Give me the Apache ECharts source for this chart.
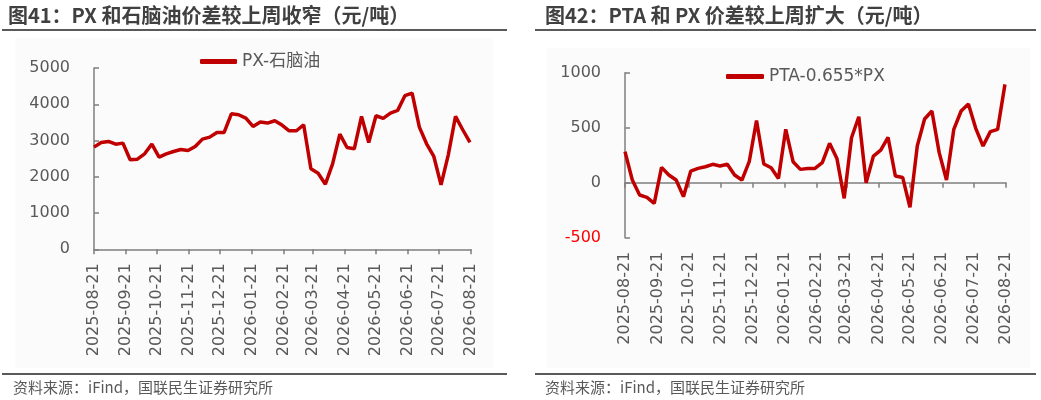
<!DOCTYPE html>
<html>
<head>
<meta charset="utf-8">
<script src="https://cdn.jsdelivr.net/npm/echarts@6/dist/echarts.min.js"></script>
<style>
html,body{margin:0;padding:0;background:#fff;}
#c{width:1041px;height:400px;}
</style>
</head>
<body>
<div id="c"></div>
<script>
// ---- data ----
const startDate = '2025-08-21';
const endDate = '2026-08-21';
const weeksCount = 53;
const pxNaphtha = [2818,2946,2974,2900,2928,2468,2486,2633,2900,2541,2633,2698,2753,2725,2836,3039,3094,3223,3223,3738,3711,3619,3389,3508,3481,3545,3425,3269,3269,3435,2219,2099,1796,2357,3177,2808,2772,3665,2947,3683,3610,3757,3831,4236,4309,3370,2910,2560,1777,2606,3665,3297,2947];
const ptaPx = [282,24,-112,-133,-188,139,70,24,-127,106,130,145,167,152,167,70,24,191,564,170,136,39,485,191,121,130,130,182,358,221,-142,409,600,0,242,297,412,61,48,-224,333,579,652,273,24,485,652,715,494,333,464,485,894];
const leftTitle = '图41：PX 和石脑油价差较上周收窄（元/吨）';
const rightTitle = '图42：PTA 和 PX 价差较上周扩大（元/吨）';
const leftName = 'PX-石脑油';
const rightName = 'PTA-0.655*PX';
const sourceText = '资料来源：iFind，国联民生证券研究所';

// ---- build daily categories and weekly dates ----
function fmt(d){
  const m = String(d.getUTCMonth()+1).padStart(2,'0');
  const dd = String(d.getUTCDate()).padStart(2,'0');
  return d.getUTCFullYear()+'-'+m+'-'+dd;
}
const days = [];
{
  let d = new Date(startDate+'T00:00:00Z');
  const e = new Date(endDate+'T00:00:00Z');
  while (d <= e) { days.push(fmt(d)); d = new Date(d.getTime()+86400000); }
}
const weekDates = [];
{
  let d = new Date(startDate+'T00:00:00Z');
  for (let i=0;i<weeksCount;i++){ weekDates.push(fmt(d)); d = new Date(d.getTime()+7*86400000); }
}
const leftData = weekDates.map((w,i)=>[w,pxNaphtha[i]]);
const rightData = weekDates.map((w,i)=>[w,ptaPx[i]]);

const FONT = '"Noto Sans CJK SC", sans-serif';
const NUMFONT = '"DejaVu Sans", "Noto Sans CJK SC", sans-serif';
const TXT = '#595959';
const AX = '#7f7f7f';
const RED = '#C00000';
const is21 = (idx, val) => String(val).slice(8) === '21';

function xAxisCfg(grid, lineShow, tickShow, labelShow, onZero){
  return {
    type:'category', gridIndex:grid, data:days, boundaryGap:false, position:'bottom',
    axisLine:{show:lineShow, onZero:onZero, lineStyle:{color:AX, width:1.5}},
    axisTick:{show:tickShow, interval:is21, length:5, lineStyle:{color:AX, width:1.5}},
    axisLabel:{show:labelShow, interval:is21, rotate:90, fontSize:16, color:TXT, fontFamily:NUMFONT, margin:14},
    splitLine:{show:false}
  };
}
function yAxisCfg(grid, min, max, interval){
  return {
    type:'value', gridIndex:grid, min:min, max:max, interval:interval,
    axisLine:{show:true, lineStyle:{color:AX, width:1.5}},
    axisTick:{show:true, inside:true, length:5, lineStyle:{color:AX, width:1.5}},
    axisLabel:{fontSize:16, fontFamily:NUMFONT, margin:24,
      formatter:function(v){ return String(v); },
      color:function(v){ return Number(v) < 0 ? '#FF0000' : TXT; }},
    splitLine:{show:false}
  };
}

const chart = echarts.init(document.getElementById('c'), null, {renderer:'canvas'});
chart.setOption({
  animation:false,
  backgroundColor:'#ffffff',
  textStyle:{fontFamily:FONT},
  graphic:[
    {type:'rect', z:-10, shape:{x:15,y:38,width:478,height:330}, style:{fill:'#fbfbfb'}},
    {type:'rect', z:-10, shape:{x:547,y:48,width:483,height:320}, style:{fill:'#fbfbfb'}},
    {type:'text', left:8, top:5, style:{text:leftTitle, font:'bold 20px '+FONT, fill:'#404040'}},
    {type:'text', left:545, top:5, style:{text:rightTitle, font:'bold 20px '+FONT, fill:'#404040'}},
    {type:'line', shape:{x1:2,y1:30,x2:507,y2:30}, style:{stroke:'#595959', lineWidth:2}},
    {type:'line', shape:{x1:535,y1:30,x2:1036,y2:30}, style:{stroke:'#595959', lineWidth:2}},
    {type:'line', shape:{x1:2,y1:374,x2:507,y2:374}, style:{stroke:'#595959', lineWidth:2}},
    {type:'line', shape:{x1:535,y1:374,x2:1036,y2:374}, style:{stroke:'#595959', lineWidth:2}},
    {type:'text', left:13, top:380, style:{text:sourceText, font:'15px '+FONT, fill:'#595959'}},
    {type:'text', left:545, top:380, style:{text:sourceText, font:'15px '+FONT, fill:'#595959'}}
  ],
  legend:[
    {data:[leftName], left:195, top:48, icon:'roundRect', itemWidth:37, itemHeight:5, itemGap:6,
     textStyle:{fontSize:17, color:TXT, fontFamily:NUMFONT}},
    {data:[rightName], left:721, top:63, icon:'roundRect', itemWidth:38, itemHeight:5, itemGap:6,
     textStyle:{fontSize:17, color:TXT, fontFamily:NUMFONT}}
  ],
  grid:[
    {left:94, top:68, width:377, height:181.3},
    {left:625, top:72.7, width:381, height:165}
  ],
  xAxis:[
    xAxisCfg(0, true, true, true, false),
    xAxisCfg(1, false, false, true, false),
    xAxisCfg(1, true, true, false, true)
  ],
  yAxis:[
    yAxisCfg(0, 0, 5000, 1000),
    yAxisCfg(1, -500, 1000, 500)
  ],
  series:[
    {name:leftName, type:'line', xAxisIndex:0, yAxisIndex:0, data:leftData,
     showSymbol:false, lineStyle:{color:RED, width:3.5}, itemStyle:{color:RED}},
    {name:rightName, type:'line', xAxisIndex:1, yAxisIndex:1, data:rightData,
     showSymbol:false, lineStyle:{color:RED, width:3.5}, itemStyle:{color:RED}}
  ]
});
</script>
</body>
</html>
